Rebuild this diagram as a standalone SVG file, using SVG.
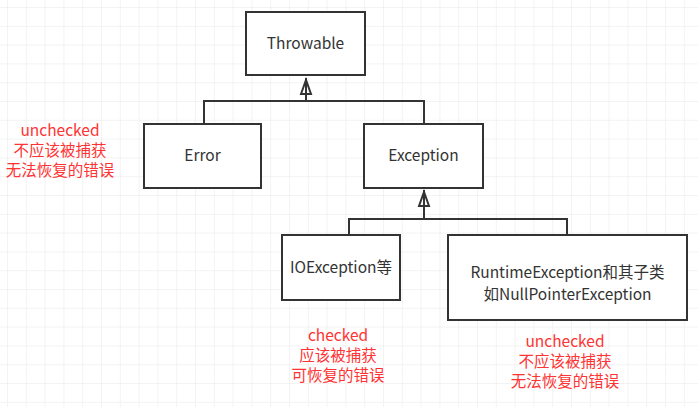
<svg xmlns="http://www.w3.org/2000/svg" width="698" height="407" viewBox="0 0 698 407">
<defs>
<pattern id="g" width="18.8" height="18.8" patternUnits="userSpaceOnUse" x="8" y="8">
<path d="M18.8 0V18.8H0" fill="none" stroke="#e8e8e8" stroke-width="1"/>
</pattern>
<style>
.b{fill:#fff;stroke:#333;stroke-width:2}
.t{font-family:"Microsoft YaHei","Noto Sans CJK SC",sans-serif;font-size:15.5px;fill:#333;text-anchor:middle}
.r{font-family:"Noto Sans CJK SC",sans-serif;font-size:15.5px;fill:#ff3333;text-anchor:middle}
.c{fill:none;stroke:#333;stroke-width:2}
</style>
</defs>
<rect width="698" height="407" fill="#fff"/>
<rect width="698" height="407" fill="url(#g)"/>
<g id="connectors">
<path class="c" d="M204 124V101H424V124M306 101V78"/>
<path class="c" d="M301 94L306 80L311 94Z" fill="#fff"/>
<path class="c" d="M349 235V219H567V235M424 219V190"/>
<path class="c" d="M419 206L424 192L429 206Z" fill="#fff"/>
</g>
<g id="throwable"><rect class="b" x="246" y="12" width="119" height="63"/><text class="t" x="305.5" y="49">Throwable</text></g>
<g id="error"><rect class="b" x="144" y="124" width="117" height="64"/><text class="t" x="202.5" y="161">Error</text></g>
<g id="exception"><rect class="b" x="364" y="124" width="119" height="64"/><text class="t" x="423.5" y="161">Exception</text></g>
<g id="ioexception"><rect class="b" x="282" y="235" width="118" height="65"/><text class="t" x="341" y="273">IOException等</text></g>
<g id="runtime"><rect class="b" x="448" y="235" width="239" height="85"/><text class="t" x="567.5" y="278">RuntimeException和其子类</text><text class="t" x="567.5" y="300">如NullPointerException</text></g>
<g id="notes">
<text class="r" x="60" y="136">unchecked</text><text class="r" x="60" y="156">不应该被捕获</text><text class="r" x="60" y="176">无法恢复的错误</text>
<text class="r" x="338" y="341">checked</text><text class="r" x="338" y="361">应该被捕获</text><text class="r" x="338" y="381">可恢复的错误</text>
<text class="r" x="565" y="347">unchecked</text><text class="r" x="565" y="367">不应该被捕获</text><text class="r" x="565" y="387">无法恢复的错误</text>
</g>
</svg>
